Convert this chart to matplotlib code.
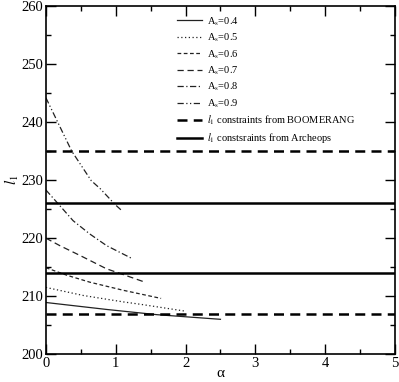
import numpy as np
import matplotlib
matplotlib.use("Agg")
import matplotlib.pyplot as plt
from matplotlib.ticker import MultipleLocator

plt.rcParams['font.family'] = ['Liberation Serif', 'DejaVu Serif']
plt.rcParams['mathtext.fontset'] = 'stix'

# curves (alpha, l_1)
a_04 = [0.0, 0.87, 1.59, 2.5]
l_04 = [208.9, 207.7, 206.8, 206.0]

a_05 = [0.0, 0.54, 1.11, 1.35, 2.0]
l_05 = [211.5, 210.1, 209.0, 208.6, 207.4]

a_06 = [0.0, 0.30, 0.63, 1.11, 1.65]
l_06 = [214.9, 213.6, 212.4, 211.0, 209.6]

a_07 = [0.0, 0.20, 0.49, 0.87, 1.04, 1.42]
l_07 = [220.0, 218.7, 217.0, 214.7, 214.0, 212.4]

a_08 = [0.0, 0.17, 0.39, 0.63, 0.87, 1.23]
l_08 = [228.3, 226.0, 223.0, 220.7, 218.7, 216.5]

a_09 = [0.0, 0.37, 0.65, 0.78, 0.99, 1.10]
l_09 = [244.2, 235.0, 229.9, 228.5, 225.8, 224.6]

boomerang = [235, 207]
archeops = [226, 214]

fig = plt.figure(figsize=(3.99, 3.82), dpi=100)
ax = fig.add_axes([0.115, 0.073, 0.875, 0.911])

c = '#222222'
ax.plot(a_04, l_04, color=c, lw=0.9, ls='-', label=r'A$_{\rm s}$=0.4')
ax.plot(a_05, l_05, color=c, lw=0.9, ls=(0, (1, 2)), label=r'A$_{\rm s}$=0.5')
ax.plot(a_06, l_06, color=c, lw=0.9, ls=(0, (3, 2)), label=r'A$_{\rm s}$=0.6')
ax.plot(a_07, l_07, color=c, lw=0.9, ls=(0, (5, 3)), label=r'A$_{\rm s}$=0.7')
ax.plot(a_08, l_08, color=c, lw=0.9, ls=(0, (5, 2, 1, 2)), label=r'A$_{\rm s}$=0.8')
ax.plot(a_09, l_09, color=c, lw=0.9, ls=(0, (5, 2, 1, 2, 1, 2)), label=r'A$_{\rm s}$=0.9')

for i, v in enumerate(boomerang):
    ax.axhline(v, color='black', lw=1.8, ls=(0, (4, 2.5)),
               label=r'$l_1$ constraints from BOOMERANG' if i == 0 else None)
for i, v in enumerate(archeops):
    ax.axhline(v, color='black', lw=1.8, ls='-',
               label=r'$l_1$ constsraints from Archeops' if i == 0 else None)

ax.set_xlim(0, 5)
ax.set_ylim(200, 260)
ax.xaxis.set_major_locator(MultipleLocator(1))
ax.xaxis.set_minor_locator(MultipleLocator(0.5))
ax.yaxis.set_major_locator(MultipleLocator(10))
ax.yaxis.set_minor_locator(MultipleLocator(5))
ax.tick_params(which='both', direction='in', top=True, right=True, labelsize=10.5, pad=2)
ax.tick_params(which='major', length=7, width=1)
ax.tick_params(which='minor', length=3.5, width=1)
for s in ax.spines.values():
    s.set_linewidth(1.2)

ax.set_xlabel('α', fontsize=11)
ax.xaxis.set_label_coords(0.5, -0.036)
ax.set_ylabel(r'$l_1$', fontsize=11)
ax.yaxis.set_label_coords(-0.072, 0.5)

ax.legend(loc='upper left', bbox_to_anchor=(0.42, 0.985), bbox_transform=fig.transFigure,
          frameon=False, fontsize=7.5, handlelength=2.4, handletextpad=0.5,
          labelspacing=0.38)

fig.savefig('out.png', dpi=100)
